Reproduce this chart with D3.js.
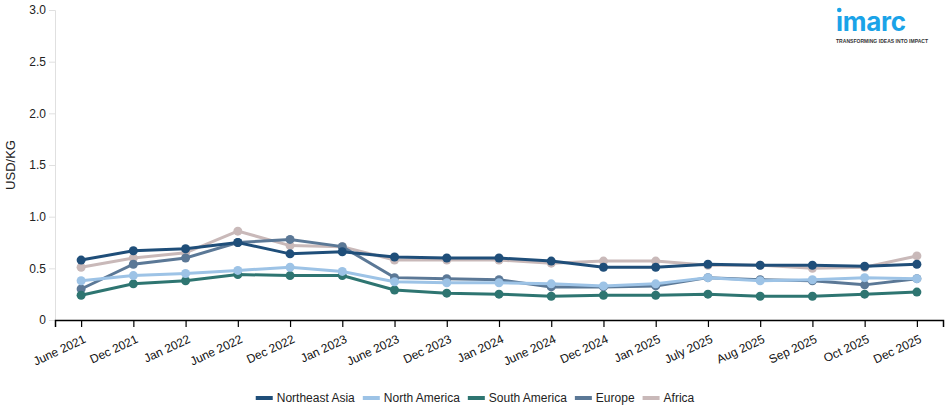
<!DOCTYPE html>
<html>
<head>
<meta charset="utf-8">
<script src="https://cdn.jsdelivr.net/npm/d3@7"></script>
<style>
  body { margin: 0; background: #fff; font-family: "Liberation Sans", Arial, sans-serif; }
  .tick text { font-family: "Liberation Sans", Arial, sans-serif; }
</style>
</head>
<body>
<div id="container"></div>
<script>
const width = 950;
const height = 414;

const periods = ["June 2021", "Dec 2021", "Jan 2022", "June 2022", "Dec 2022", "Jan 2023",
                 "June 2023", "Dec 2023", "Jan 2024", "June 2024", "Dec 2024", "Jan 2025",
                 "July 2025", "Aug 2025", "Sep 2025", "Oct 2025", "Dec 2025"];
const regions = ["Northeast Asia", "North America", "South America", "Europe", "Africa"];
const northeastAsia = [0.58, 0.67, 0.69, 0.75, 0.64, 0.66, 0.61, 0.60, 0.60, 0.57, 0.51, 0.51, 0.54, 0.53, 0.53, 0.52, 0.54];
const northAmerica  = [0.38, 0.43, 0.45, 0.48, 0.51, 0.47, 0.37, 0.36, 0.36, 0.35, 0.33, 0.35, 0.41, 0.38, 0.39, 0.41, 0.40];
const southAmerica  = [0.24, 0.35, 0.38, 0.44, 0.43, 0.43, 0.29, 0.26, 0.25, 0.23, 0.24, 0.24, 0.25, 0.23, 0.23, 0.25, 0.27];
const europe        = [0.30, 0.54, 0.60, 0.75, 0.78, 0.71, 0.41, 0.40, 0.39, 0.32, 0.32, 0.33, 0.41, 0.39, 0.38, 0.34, 0.40];
const africa        = [0.51, 0.60, 0.65, 0.86, 0.72, 0.71, 0.58, 0.58, 0.58, 0.55, 0.57, 0.57, 0.53, 0.53, 0.50, 0.51, 0.62];
const yTicks = [0, 0.5, 1.0, 1.5, 2.0, 2.5, 3.0];
const colors = ["#1f4e79", "#9dc3e6", "#2e7571", "#5b7896", "#c9b9b9"];

const seriesValues = [northeastAsia, northAmerica, southAmerica, europe, africa];
const series = regions.map((name, i) => ({ name: name, color: colors[i], values: seriesValues[i] }));

const margin = { top: 10, right: 7, bottom: 94, left: 55 };

const svg = d3.select("#container")
              .append("svg")
              .attr("width", width)
              .attr("height", height);

const x = d3.scalePoint()
            .domain(periods)
            .range([margin.left, width - margin.right])
            .padding(0.5);
const y = d3.scaleLinear()
            .domain([0, 3])
            .range([height - margin.bottom, margin.top]);

// y axis (light grey)
const yAxis = svg.append("g")
                 .attr("transform", "translate(" + margin.left + ",0)")
                 .call(d3.axisLeft(y).tickValues(yTicks).tickSize(6)
                         .tickFormat(d => d === 0 ? "0" : d3.format(".1f")(d)));
yAxis.select(".domain").attr("stroke", "#e0e0e0");
yAxis.selectAll(".tick line").attr("stroke", "#e0e0e0");
yAxis.selectAll(".tick text").attr("fill", "#222").style("font-size", "12px").attr("x", -9);

svg.append("text")
   .attr("transform", "translate(15," + ((margin.top + height - margin.bottom) / 2) + ") rotate(-90)")
   .attr("text-anchor", "middle")
   .style("font-size", "13px")
   .attr("fill", "#222")
   .text("USD/KG");

// x axis (black)
const xAxis = svg.append("g")
                 .attr("transform", "translate(0," + (height - margin.bottom) + ")")
                 .call(d3.axisBottom(x).tickSizeOuter(0).tickSize(7));
xAxis.select(".domain").attr("stroke", "#000").attr("stroke-width", 1.5);
xAxis.selectAll(".tick line").attr("stroke", "#000").attr("stroke-width", 1.2);
xAxis.selectAll(".tick text")
     .attr("fill", "#111")
     .style("font-size", "12px")
     .attr("text-anchor", "end")
     .attr("x", 0)
     .attr("y", 0)
     .attr("dy", 0)
     .attr("transform", "translate(5,22) rotate(-25)");

const line = d3.line()
               .x((d, i) => x(periods[i]))
               .y(d => y(d));

// draw in reverse so Northeast Asia sits on top
const drawOrder = series.slice().reverse();
const group = svg.selectAll(".series")
                 .data(drawOrder)
                 .enter()
                 .append("g")
                 .attr("class", "series");
group.append("path")
     .attr("d", d => line(d.values))
     .attr("fill", "none")
     .attr("stroke", d => d.color)
     .attr("stroke-width", 3);
group.selectAll("circle")
     .data(d => d.values.map((v, i) => ({ v: v, i: i, color: d.color })))
     .enter()
     .append("circle")
     .attr("cx", d => x(periods[d.i]))
     .attr("cy", d => y(d.v))
     .attr("r", 4.5)
     .attr("fill", d => d.color);

// legend
const legendY = 398;
const legend = svg.append("g");
let lx = 0;
series.forEach(s => {
  const g = legend.append("g").attr("transform", "translate(" + lx + "," + legendY + ")");
  g.append("rect").attr("x", 0).attr("y", -2).attr("width", 17).attr("height", 4).attr("fill", s.color);
  const t = g.append("text").attr("x", 21).attr("y", 4).style("font-size", "12px").attr("fill", "#222").text(s.name);
  lx += 21 + t.node().getComputedTextLength() + 8;
});
const legendWidth = lx - 8;
legend.attr("transform", "translate(" + ((width - legendWidth) / 2) + ",0)");

// logo
const logo = svg.append("g").attr("transform", "translate(836,0)");
logo.append("text")
    .attr("x", 0).attr("y", 31)
    .style("font-family", "Inter, 'Open Sans', sans-serif")
    .style("font-size", "26px")
    .style("font-weight", 700)
    .attr("fill", "#1aa3e8")
    .attr("textLength", 70)
    .text("ımarc");
logo.append("circle").attr("cx", 3.3).attr("cy", 10).attr("r", 2.3).attr("fill", "#1aa3e8");
logo.append("text")
    .attr("x", 0).attr("y", 43)
    .style("font-size", "5px")
    .style("font-weight", 700)
    .attr("fill", "#333")
    .attr("textLength", 92)
    .text("TRANSFORMING IDEAS INTO IMPACT");
</script>
</body>
</html>
